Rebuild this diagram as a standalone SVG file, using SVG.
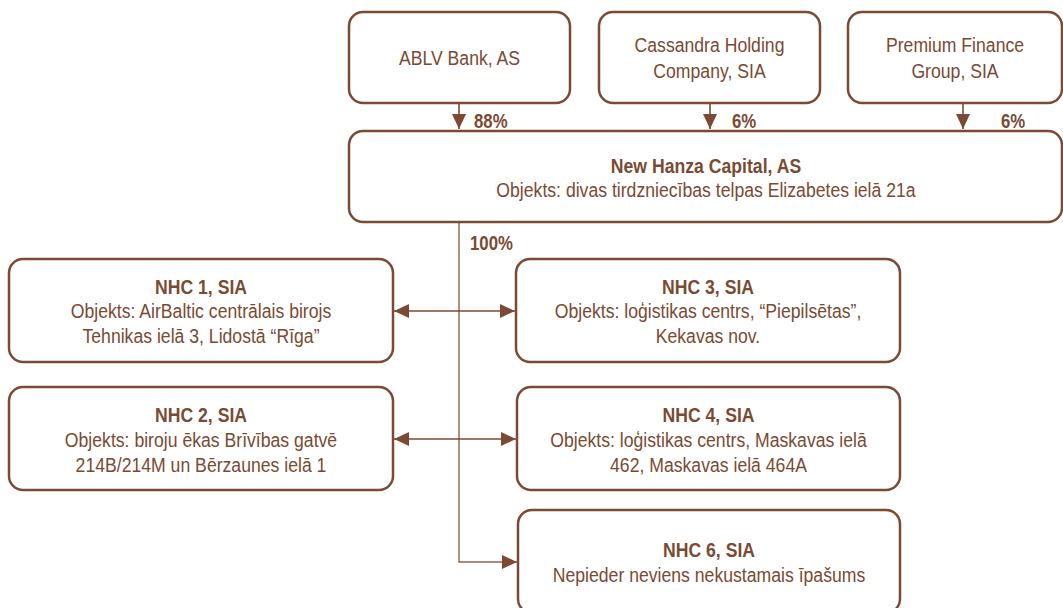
<svg xmlns="http://www.w3.org/2000/svg" width="1063" height="608" viewBox="0 0 1063 608">
<defs>
<style>
.box{fill:#fff;stroke:#7a4a33;stroke-width:2.5}
.t{font-family:"Liberation Sans Narrow","Liberation Sans",Arial,sans-serif;font-size:21px;fill:#7a4a33;text-anchor:middle}
.b{font-weight:bold}
.p{font-family:"Liberation Sans Narrow","Liberation Sans",Arial,sans-serif;font-size:20px;font-weight:bold;fill:#7a4a33}
.ln{fill:none;stroke:#7a4a33;stroke-width:1.6}
.tr{fill:none;stroke:#8f6452;stroke-width:1.4}
</style>
<marker id="ah" viewBox="0 0 15 14" refX="15" refY="7" markerWidth="15" markerHeight="14" markerUnits="userSpaceOnUse" orient="auto-start-reverse">
<path d="M0,0 L15,7 L0,14 Z" fill="#7a4a33"/>
</marker>
</defs>
<rect width="1063" height="608" fill="#fff"/>
<g id="connectors">
<line class="ln" x1="459" y1="103" x2="459" y2="129" marker-end="url(#ah)"/>
<line class="ln" x1="710" y1="103" x2="710" y2="129" marker-end="url(#ah)"/>
<line class="ln" x1="963" y1="103" x2="963" y2="129" marker-end="url(#ah)"/>
<polyline class="tr" points="459,222 459,562 517,562" marker-end="url(#ah)"/>
<line class="ln" x1="394" y1="311" x2="515" y2="311" marker-start="url(#ah)" marker-end="url(#ah)"/>
<line class="ln" x1="394" y1="439" x2="516" y2="439" marker-start="url(#ah)" marker-end="url(#ah)"/>
<text class="p" transform="translate(474,128) scale(0.84,1)">88%</text>
<text class="p" transform="translate(732,128) scale(0.84,1)">6%</text>
<text class="p" transform="translate(1001,128) scale(0.84,1)">6%</text>
<text class="p" transform="translate(470,250) scale(0.84,1)">100%</text>
</g>
<g id="ablv">
<rect class="box" x="349" y="12" width="221" height="91" rx="14"/>
<text class="t" transform="translate(459.5,65) scale(0.84,1)">ABLV Bank, AS</text>
</g>
<g id="cassandra">
<rect class="box" x="599" y="12" width="221" height="91" rx="14"/>
<text class="t" transform="translate(709.5,52) scale(0.84,1)">Cassandra Holding</text>
<text class="t" transform="translate(709.5,78) scale(0.84,1)">Company, SIA</text>
</g>
<g id="premium">
<rect class="box" x="848" y="12" width="214" height="91" rx="14"/>
<text class="t" transform="translate(955,52) scale(0.84,1)">Premium Finance</text>
<text class="t" transform="translate(955,78) scale(0.84,1)">Group, SIA</text>
</g>
<g id="nhcap">
<rect class="box" x="349" y="131" width="713" height="91" rx="14"/>
<text class="t b" transform="translate(706,173) scale(0.84,1)">New Hanza Capital, AS</text>
<text class="t" transform="translate(706,197) scale(0.84,1)">Objekts: divas tirdzniecības telpas Elizabetes ielā 21a</text>
</g>
<g id="nhc1">
<rect class="box" x="9" y="259" width="384" height="103" rx="14"/>
<text class="t b" transform="translate(201,294) scale(0.84,1)">NHC 1, SIA</text>
<text class="t" transform="translate(201,318) scale(0.84,1)">Objekts: AirBaltic centrālais birojs</text>
<text class="t" transform="translate(201,343) scale(0.84,1)">Tehnikas ielā 3, Lidostā “Rīga”</text>
</g>
<g id="nhc3">
<rect class="box" x="516" y="259" width="384" height="103" rx="14"/>
<text class="t b" transform="translate(708,294) scale(0.84,1)">NHC 3, SIA</text>
<text class="t" transform="translate(708,318) scale(0.84,1)">Objekts: loģistikas centrs, “Piepilsētas”,</text>
<text class="t" transform="translate(708,343) scale(0.84,1)">Kekavas nov.</text>
</g>
<g id="nhc2">
<rect class="box" x="9" y="387" width="384" height="103" rx="14"/>
<text class="t b" transform="translate(201,422) scale(0.84,1)">NHC 2, SIA</text>
<text class="t" transform="translate(201,447) scale(0.84,1)">Objekts: biroju ēkas Brīvības gatvē</text>
<text class="t" transform="translate(201,472) scale(0.84,1)">214B/214M un Bērzaunes ielā 1</text>
</g>
<g id="nhc4">
<rect class="box" x="517" y="387" width="383" height="103" rx="14"/>
<text class="t b" transform="translate(708.5,422) scale(0.84,1)">NHC 4, SIA</text>
<text class="t" transform="translate(708.5,447) scale(0.84,1)">Objekts: loģistikas centrs, Maskavas ielā</text>
<text class="t" transform="translate(708.5,472) scale(0.84,1)">462, Maskavas ielā 464A</text>
</g>
<g id="nhc6">
<rect class="box" x="518" y="510" width="382" height="103" rx="14"/>
<text class="t b" transform="translate(709,557) scale(0.84,1)">NHC 6, SIA</text>
<text class="t" transform="translate(709,582) scale(0.84,1)">Nepieder neviens nekustamais īpašums</text>
</g>
</svg>
